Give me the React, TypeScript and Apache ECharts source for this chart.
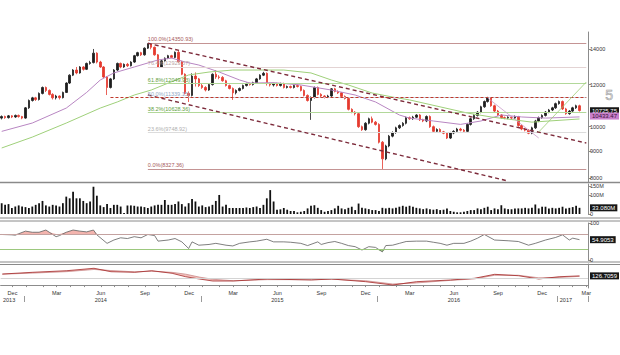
import React, { useEffect, useRef } from 'react';
import * as echarts from 'echarts';

// ---------- categories ----------
const FIRST_WEEK_UTC = Date.UTC(2013, 10, 15);
const WEEK_COUNT = 173;
const MONTH_NAMES = ['Jan', 'Feb', 'Mar', 'Apr', 'May', 'Jun', 'Jul', 'Aug', 'Sep', 'Oct', 'Nov', 'Dec'];
const QUARTER_MONTHS = [11, 2, 5, 8];
const yearLabelWeeks = ['2013-11-29', '2014-06-06', '2015-06-05', '2016-06-03', '2017-01-20'];

// ---------- weekly candles [open, close, low, high] ----------
const candles: number[][] = [
  [10380,10450,10320,10500],[10450,10400,10350,10490],[10400,10480,10360,10520],[10480,10430,10380,10510],[10430,10500,10390,10540],[10500,10450,10400,10540],[10450,10380,10330,10480],[10380,10850,10350,10890],[10850,11200,10800,11250],[11200,11330,11150,11380],
  [11330,11250,11180,11380],[11250,11550,11200,11600],[11550,11850,11500,11900],[11850,11700,11620,11900],[11700,11500,11450,11750],[11500,11330,11250,11560],[11330,11420,11250,11480],[11420,11340,11250,11450],[11340,11600,11300,11640],[11600,12080,11570,12120],
  [12080,12500,12030,12550],[12500,12780,12450,12830],[12780,12620,12550,12950],[12620,12950,12580,13000],[12950,12820,12750,13000],[12820,13150,12780,13200],[13150,13200,13080,13300],[13200,13750,13150,14000],[13750,13230,13150,13800],[13230,12950,12900,13300],
  [12950,12400,12350,13000],[12400,11850,11470,12450],[11850,12300,11800,12350],[12300,12780,12250,12830],[12780,13150,12720,13200],[13150,12950,12880,13200],[12950,13100,12900,13150],[13100,13020,12950,13180],[13020,13230,12980,13280],[13230,13600,13180,13650],
  [13600,13780,13550,13830],[13780,13650,13580,13830],[13650,14050,13600,14100],[14050,14300,14000,14350.93],[14300,14100,13980,14340],[14100,13650,13600,14150],[13650,12950,12900,13700],[12950,13300,12900,13350],[13300,13450,13250,13500],[13450,13600,13400,13650],
  [13600,13500,13450,13650],[13500,13800,13450,13850],[13800,13250,13200,13900],[13250,12550,12500,13300],[12550,11550,11500,12600],[11550,11450,11130,11650],[11450,12450,11400,12600],[12450,12300,11900,12650],[12300,11950,11880,12350],[11950,11850,11780,12050],
  [11850,11720,11650,11920],[11720,12000,11680,12050],[12000,12550,11950,12600],[12550,12400,12300,12780],[12400,12380,12280,12500],[12380,12200,12150,12450],[12200,11950,11900,12250],[11950,11800,11750,12000],[11800,11580,11230,11850],[11580,11700,11500,11750],
  [11700,11800,11650,11850],[11800,11950,11750,12000],[11950,12050,11900,12100],[12050,12000,11950,12100],[12000,12100,11950,12150],[12100,12300,12050,12350],[12300,12500,12250,12550],[12500,12600,12450,12680],[12600,12050,11950,12650],[12050,11980,11900,12100],
  [11980,12050,11900,12100],[12050,11950,11900,12100],[11950,12050,11900,12100],[12050,11850,11800,12100],[11850,11900,11800,11950],[11900,11850,11800,11950],[11850,11950,11800,12000],[11950,11900,11850,12000],[11900,11700,11650,11950],[11700,11450,11400,11750],
  [11450,11200,11150,11500],[11200,11350,10300,11400],[11350,11850,11300,11900],[11850,11500,11450,11900],[11500,11420,11350,11560],[11420,11380,11300,11460],[11380,11420,11320,11480],[11420,11780,11380,11820],[11780,11650,11600,11830],[11650,11580,11520,11700],
  [11580,11400,11350,11620],[11400,11300,11250,11450],[11300,10780,10730,11350],[10780,10650,10600,10830],[10650,10580,10500,10700],[10580,10000,9950,10620],[10000,9870,9820,10050],[9870,10150,9830,10200],[10150,10350,10100,10400],[10350,10200,10150,10450],
  [10200,10100,10050,10250],[10100,9350,9300,10150],[9350,8700,8327.36,9400],[8700,9200,8650,9250],[9200,9600,9150,9650],[9600,9750,9550,9800],[9750,9950,9700,10000],[9950,10050,9900,10100],[10050,10150,10000,10200],[10150,10400,10100,10450],
  [10400,10350,10300,10450],[10350,10420,10300,10480],[10420,10520,10380,10560],[10520,10300,10250,10560],[10300,10250,10200,10350],[10250,10450,10200,10500],[10450,10000,9950,10500],[10000,9800,9750,10050],[9800,9880,9750,9930],[9880,9780,9730,9930],
  [9780,9720,9680,9820],[9720,9520,9480,9770],[9520,9730,9480,9780],[9730,9800,9680,9850],[9800,9900,9750,9950],[9900,9850,9800,9950],[9850,9800,9750,9900],[9800,10100,9750,10150],[10100,10350,10050,10400],[10350,10500,10300,10550],
  [10500,10650,10450,10700],[10650,10900,10600,10950],[10900,11150,10850,11200],[11150,11320,11100,11380],[11320,10950,10900,11370],[10950,10700,10650,11000],[10700,10520,10480,10750],[10520,10400,10350,10560],[10400,10380,10330,10450],[10380,10420,10330,10460],
  [10420,10380,10330,10460],[10380,10450,10340,10500],[10450,10050,10000,10480],[10050,9900,9850,10100],[9900,9850,9800,9950],[9850,9720,9680,9900],[9720,9950,9680,10000],[9950,10250,9900,10300],[10250,10400,10200,10450],[10400,10500,10350,10550],
  [10500,10650,10450,10700],[10650,10750,10600,10800],[10750,10850,10700,10900],[10850,11050,10800,11100],[11050,11150,11000,11200],[11150,10800,10750,11200],[10800,10580,10530,10850],[10580,10700,10530,10750],[10700,10850,10650,10900],[10850,10950,10800,11000],
  [10950,10725.75,10680,11000],
];

// ---------- weekly volume (millions) ----------
const volumeM: number[] = [
  58,49,53,32,40,46,40,37,32,40, 49,58,70,46,40,49,46,40,58,93,
  84,119,84,84,70,58,67,146,98,46, 37,53,32,49,49,40,5,46,46,44,
  40,40,37,32,40,46,49,49,75,49, 49,53,67,53,40,58,81,67,40,46,
  37,40,49,70,102,40,49,32,32,32, 32,32,35,32,37,40,32,49,84,128,
  67,23,25,32,23,16,16,9,12,16, 30,44,47,33,21,12,16,21,30,44,
  30,26,33,39,21,56,33,30,26,21, 21,16,33,30,33,30,33,39,44,39,
  44,39,33,30,26,30,26,23,26,21, 23,30,16,12,9,9,12,16,21,21,
  30,26,33,39,21,30,26,47,30,26, 26,30,30,30,33,30,33,51,30,39,
  39,30,33,30,33,39,30,33,37,44, 33.08,
];

// ---------- moving averages [week, value] ----------
const purpleMA: [number, number][] = [
  [0,9800],[9,10160],[19,10840],[25,11600],[29,12240],[33,12620],[39,12950],[46,13350],[50,13460],[54,13230],
  [58,13060],[64,12670],[70,12240],[73,12080],[80,12100],[88,11980],[97,11720],[104,11470],[110,11130],[117,10520],
  [120,10380],[127,10250],[135,10100],[141,10250],[147,10520],[153,10430],[160,10380],[170,10433.47],
];
const greenMA: [number, number][] = [
  [0,9120],[9,9560],[19,10160],[29,10840],[34,11130],[39,11470],[44,11720],[49,12080],[55,12510],[61,12670],
  [68,12780],[83,12780],[91,12620],[97,12240],[102,11980],[109,11570],[115,11370],[120,11230],[137,10610],[144,10430],
  [156,10200],[170,10340],
];

// ---------- RSI [week, value] ----------
const rsiPoints: [number, number][] = [
  [0,69],[3,68],[4,67],[5,71],[7,78],[9,75],[11,75],[13,81],[14,75],[16,63],[17,66],[19,75],[21,81],[23,78],[25,76],
  [27,81],[28,68],[31,45],[33,54],[35,60],[37,58],[39,63],[41,60],[43,69],[45,66],[46,51],[49,54],[51,58],[53,49],
  [55,31],[56,49],[58,40],[61,42],[63,45],[66,40],[68,38],[70,45],[73,49],[75,51],[78,56],[80,49],[83,49],[85,48],
  [88,45],[90,39],[93,49],[94,42],[96,47],[98,50],[100,45],[102,39],[104,36],[106,27],[108,36],[110,34],[112,22],
  [113,39],[115,40],[117,45],[119,50],[122,51],[125,51],[127,48],[129,45],[131,40],[133,45],[136,45],[138,51],
  [140,59],[142,69],[145,54],[149,52],[152,50],[155,40],[157,45],[160,54],[163,61],[165,68],[167,54],[168,59],[170,54.9053],
];
const rsiBands = [70, 30];

// ---------- lower oscillator ----------
const oscWeeks = [0,9,19,27,32,39,44,50,54,58,62,68,78,91,97,107,115,122,132,139,145,152,158,164,170];
const oscMain = [152,176,198,231,184,176,198,162,115,84,56,56,84,70,84,47,1,47,70,93,148,129,84,115,126.7059];
const oscSignal = [150,165,185,215,200,182,190,175,150,110,80,60,75,75,80,60,15,30,65,85,135,135,100,105,120];
const oscReference = 100;

// ---------- fibonacci & trend lines ----------
const fibHigh = 14350.93;
const fibLow = 8327.36;
const fibLevels = [100, 76.4, 61.8, 50, 38.2, 23.6, 0];
const trendLines: { from: [number, number]; to: [number, number] }[] = [
  { from: [43, 14350.93], to: [172, 9318] },
  { from: [43, 11471], to: [149, 7905] },
  { from: [32, 11339.15], to: [172, 11339.15] },
  { from: [143, 11323], to: [158, 9523] },
  { from: [158, 9773], to: [172, 12135] },
];

// ---------- axes ----------
const priceRange = [7871, 15068];
const priceTicks = [8000, 9000, 10000, 12000, 14000];
const volumeMax = 160.7;
const volumeTicks = [0, 100, 150];
const rsiTicks = [0, 100];
const oscRange = [-40, 290];

// ---------- styles ----------
const F = '"Liberation Sans", Arial, sans-serif';
const AXIS = '#8c8c8c';
const fibStyle: Record<string, { line: string; text: string }> = {
  '100': { line: '#c49494', text: '#a65a5a' },
  '76.4': { line: '#e3d3d3', text: '#b9a3a3' },
  '61.8': { line: '#b2d89a', text: '#5f9e3f' },
  '50': { line: '#c8d8e8', text: '#8fa9c6' },
  '38.2': { line: '#b2d89a', text: '#5f9e3f' },
  '23.6': { line: '#dcdcdc', text: '#b0b0b0' },
  '0': { line: '#c49494', text: '#a65a5a' },
};
const trendStyles = [
  { color: '#7d2b3b', width: 1.4, type: [4, 3] },
  { color: '#7d2b3b', width: 1.4, type: [4, 3] },
  { color: '#c0392b', width: 1.2, type: [3, 2] },
  { color: '#c89ac8', width: 0.8, type: 'solid' },
  { color: '#9ccc74', width: 0.8, type: 'solid' },
];

function buildOption() {
  const lg = Math.log10;
  const weeks = Array.from({ length: WEEK_COUNT }, (_, i) =>
    new Date(FIRST_WEEK_UTC + i * 7 * 86400000).toISOString().slice(0, 10));
  const monthOf = (i: number) => Number(weeks[i].slice(5, 7)) - 1;
  const isMonthStart = (i: number) => i > 0 && monthOf(i) !== monthOf(i - 1);
  const isQuarterLabel = (i: number) => isMonthStart(i) && QUARTER_MONTHS.includes(monthOf(i));
  const isYearStart = (i: number) => i > 0 && weeks[i].slice(0, 4) !== weeks[i - 1].slice(0, 4);

  const grids = [
    { left: 0, right: 32, top: 32, height: 150 },
    { left: 0, right: 32, top: 184, height: 30 },
    { left: 0, right: 32, top: 223, height: 37 },
    { left: 0, right: 32, top: 264, height: 24 },
  ];

  const hiddenX = (g: number) => ({
    type: 'category', gridIndex: g, data: weeks, boundaryGap: true,
    axisLine: { show: false }, axisTick: { show: false }, axisLabel: { show: false },
  });

  const rightAxis = (g: number, min: number, max: number, ticks: number[] | null, fmt: (v: number) => string) => ({
    type: 'value', gridIndex: g, position: 'right', min, max,
    splitLine: { show: false },
    axisLine: { show: true, lineStyle: { color: AXIS, width: 1 } },
    axisTick: ticks ? { show: true, length: 3, customValues: ticks, lineStyle: { color: AXIS } } : { show: false },
    axisLabel: ticks
      ? { show: true, customValues: ticks, formatter: fmt, fontSize: 5.5, color: '#333', margin: 2, fontFamily: F }
      : { show: false },
  });

  const tag = (value: number, text: string, bg: string, color: string) => ({
    yAxis: value,
    lineStyle: { color: 'rgba(0,0,0,0)', width: 1, type: 'solid' },
    label: {
      show: true, position: 'end', formatter: text, backgroundColor: bg, color,
      fontSize: 6, fontFamily: F, padding: [1, 2, 0, 2], distance: 2, opacity: 1,
    },
  });

  const fibStart = candles.findIndex((c) => c[3] === fibHigh);
  const fibLines = fibLevels.map((p) => {
    const v = fibLow + ((fibHigh - fibLow) * p) / 100;
    const st = fibStyle[String(p)];
    return [
      {
        coord: [fibStart, lg(v)],
        lineStyle: { color: st.line, width: 1, type: 'solid' },
        label: {
          show: true, position: 'insideStartTop', distance: [0, 1],
          formatter: `${p.toFixed(1)}%(${v.toFixed(2)})`, color: st.text, fontSize: 5.5, fontFamily: F,
        },
      },
      { coord: [WEEK_COUNT - 1, lg(v)] },
    ];
  });
  const trends = trendLines.map((t, i) => [
    { coord: [t.from[0], lg(t.from[1])], lineStyle: trendStyles[i], label: { show: false } },
    { coord: [t.to[0], lg(t.to[1])] },
  ]);

  const last = candles[candles.length - 1];
  const lastPurple = purpleMA[purpleMA.length - 1][1];
  const lastVol = volumeM[volumeM.length - 1];
  const lastRsi = rsiPoints[rsiPoints.length - 1][1];
  const lastOsc = oscMain[oscMain.length - 1];

  const oscLow = oscWeeks.map((k, i) => [k, Math.min(oscMain[i], oscSignal[i])]);
  const oscGap = oscWeeks.map((k, i) => [k, Math.abs(oscMain[i] - oscSignal[i])]);

  const mk = (data: any[]) => ({ silent: true, symbol: ['none', 'none'], animation: false, data });

  return {
    animation: false,
    backgroundColor: '#ffffff',
    textStyle: { fontFamily: F },
    grid: grids,
    xAxis: [
      hiddenX(0), hiddenX(1), hiddenX(2),
      {
        type: 'category', gridIndex: 3, data: weeks, boundaryGap: true,
        axisLine: { show: true, lineStyle: { color: AXIS, width: 1 } },
        axisTick: { show: true, interval: (i: number) => isMonthStart(i), alignWithLabel: true, length: 2, lineStyle: { color: AXIS } },
        axisLabel: {
          show: true, interval: (i: number) => isQuarterLabel(i),
          formatter: (v: string) => MONTH_NAMES[Number(v.slice(5, 7)) - 1],
          fontSize: 5.5, color: '#333', margin: 2, fontFamily: F,
        },
      },
      {
        type: 'category', gridIndex: 3, data: weeks, boundaryGap: true, position: 'bottom', offset: 8,
        axisLine: { show: false },
        axisTick: { show: true, interval: (i: number) => isYearStart(i), length: 6, lineStyle: { color: '#9a9a9a' } },
        axisLabel: {
          show: true, interval: (_i: number, v: string) => yearLabelWeeks.includes(v),
          formatter: (v: string) => v.slice(0, 4), fontSize: 5.5, color: '#333', margin: 1, fontFamily: F,
        },
      },
    ],
    yAxis: [
      rightAxis(0, lg(priceRange[0]), lg(priceRange[1]), priceTicks.map(lg), (v) => String(Math.round(Math.pow(10, v)))),
      rightAxis(1, 0, volumeMax, volumeTicks, (v) => (v === 0 ? '0' : `${v}M`)),
      rightAxis(2, 0, 100, rsiTicks, (v) => String(v)),
      rightAxis(3, oscRange[0], oscRange[1], null, (v) => String(v)),
    ],
    series: [
      {
        type: 'candlestick', xAxisIndex: 0, yAxisIndex: 0, z: 3,
        data: candles.map((c) => c.map(lg)),
        barWidth: 2,
        itemStyle: { color: '#1e1e1e', color0: '#e53a2e', borderColor: '#1e1e1e', borderColor0: '#e53a2e', borderWidth: 0.8 },
        markLine: mk([...fibLines, ...trends, tag(lg(last[1]), last[1].toFixed(2), '#161616', '#ffffff')]),
      },
      {
        type: 'line', xAxisIndex: 0, yAxisIndex: 0, z: 4, showSymbol: false, symbol: 'none',
        data: purpleMA.map(([k, v]) => [k, lg(v)]),
        lineStyle: { color: '#b886c2', width: 1 },
        markLine: mk([tag(lg(lastPurple), lastPurple.toFixed(2), '#c97fcb', '#3a143a')]),
      },
      {
        type: 'line', xAxisIndex: 0, yAxisIndex: 0, z: 4, showSymbol: false, symbol: 'none',
        data: greenMA.map(([k, v]) => [k, lg(v)]),
        lineStyle: { color: '#9fd07a', width: 1 },
      },
      {
        type: 'bar', xAxisIndex: 1, yAxisIndex: 1, data: volumeM, barWidth: 1.8,
        itemStyle: { color: '#111111' },
        markLine: mk([tag(lastVol, `${lastVol.toFixed(3)}M`, '#161616', '#ffffff')]),
      },
      {
        type: 'line', xAxisIndex: 2, yAxisIndex: 2, z: 1, symbol: 'none',
        data: rsiPoints.map(([k, v]) => [k, Math.max(v, rsiBands[0])]),
        lineStyle: { width: 0, opacity: 0 },
        areaStyle: { origin: rsiBands[0], color: '#f3b4ae', opacity: 1 },
      },
      {
        type: 'line', xAxisIndex: 2, yAxisIndex: 2, z: 1, symbol: 'none',
        data: rsiPoints.map(([k, v]) => [k, Math.min(v, rsiBands[1])]),
        lineStyle: { width: 0, opacity: 0 },
        areaStyle: { origin: rsiBands[1], color: '#a6d68a', opacity: 1 },
      },
      {
        type: 'line', xAxisIndex: 2, yAxisIndex: 2, z: 3, symbol: 'none',
        data: rsiPoints,
        lineStyle: { color: '#5e5e5e', width: 0.8 },
        markLine: mk([
          { yAxis: rsiBands[0], lineStyle: { color: '#c4a2a0', width: 1, type: 'solid' }, label: { show: false } },
          { yAxis: rsiBands[1], lineStyle: { color: '#9cc87e', width: 1, type: 'solid' }, label: { show: false } },
          tag(lastRsi, lastRsi.toFixed(4), '#161616', '#ffffff'),
        ]),
      },
      {
        type: 'line', xAxisIndex: 3, yAxisIndex: 3, stack: 'osc', symbol: 'none', z: 1,
        data: oscLow, lineStyle: { width: 0, opacity: 0 },
      },
      {
        type: 'line', xAxisIndex: 3, yAxisIndex: 3, stack: 'osc', symbol: 'none', z: 1,
        data: oscGap, lineStyle: { width: 0, opacity: 0 },
        areaStyle: { color: '#f4c2be', opacity: 1 },
      },
      {
        type: 'line', xAxisIndex: 3, yAxisIndex: 3, symbol: 'none', z: 3,
        data: oscWeeks.map((k, i) => [k, oscSignal[i]]),
        lineStyle: { color: '#c98a8a', width: 0.8 },
      },
      {
        type: 'line', xAxisIndex: 3, yAxisIndex: 3, symbol: 'none', z: 3,
        data: oscWeeks.map((k, i) => [k, oscMain[i]]),
        lineStyle: { color: '#a32a2a', width: 0.8 },
        markLine: mk([
          { yAxis: oscReference, lineStyle: { color: '#d4d4d4', width: 1, type: 'solid' }, label: { show: false } },
          tag(lastOsc, lastOsc.toFixed(4), '#161616', '#ffffff'),
        ]),
      },
    ],
    graphic: [
      { type: 'line', silent: true, shape: { x1: 0, y1: 182.5, x2: 620, y2: 182.5 }, style: { stroke: '#8a8a8a', lineWidth: 1.5 } },
      { type: 'line', silent: true, shape: { x1: 0, y1: 218, x2: 620, y2: 218 }, style: { stroke: '#8a8a8a', lineWidth: 1.2 } },
      { type: 'line', silent: true, shape: { x1: 0, y1: 221, x2: 620, y2: 221 }, style: { stroke: '#8a8a8a', lineWidth: 1 } },
      { type: 'line', silent: true, shape: { x1: 0, y1: 262, x2: 620, y2: 262 }, style: { stroke: '#8a8a8a', lineWidth: 1.2 } },
      { type: 'line', silent: true, shape: { x1: 0, y1: 264.5, x2: 620, y2: 264.5 }, style: { stroke: '#8a8a8a', lineWidth: 1 } },
      { type: 'text', silent: true, left: 605, top: 88, style: { text: '5', fontSize: 14, fill: 'rgba(0,0,0,0)', stroke: '#9a9a9a', lineWidth: 0.6, fontFamily: F } },
    ],
  };
}

export default function App() {
  const ref = useRef<HTMLDivElement>(null);
  useEffect(() => {
    if (!ref.current) return;
    const chart = echarts.init(ref.current, null, { renderer: 'svg' });
    chart.setOption(buildOption() as any);
    return () => chart.dispose();
  }, []);
  return (
    <div
      ref={ref}
      style={{ position: 'fixed', left: 0, top: 0, width: 620, height: 355, background: '#ffffff' }}
    />
  );
}
